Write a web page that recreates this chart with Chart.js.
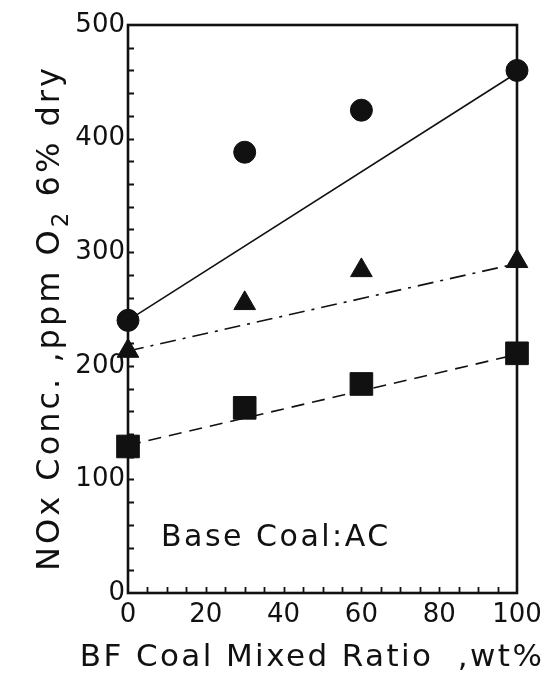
<!DOCTYPE html>
<html><head><meta charset="utf-8">
<script src="https://cdn.jsdelivr.net/npm/chart.js@4"></script>
<style>html,body{margin:0;padding:0;background:#fff}#wrap{width:555px;height:675px}</style>
</head><body><div id="wrap"><canvas id="c" width="555" height="675"></canvas></div>
<script>
// ---- data ----
const xValues = [0, 30, 60, 100];
const circleValues = [240, 388, 425, 460];
const triangleValues = [213, 255, 284, 292];
const squareValues = [129, 163, 184, 211];
const fitX = [0, 100];
const circleFit = [240, 458];
const triangleFit = [213, 290];
const squareFit = [130, 210];
const xMin = 0, xMax = 100, xStep = 20, xMinorStep = 5;
const yMin = 0, yMax = 500, yStep = 100, yMinorStep = 20;
const xTitle = 'BF Coal Mixed Ratio  ,wt%';
const yTitleParts = [['NOx Conc. ,ppm O', false], ['2', true], [' 6% dry', false]];
const noteText = 'Base Coal:AC';
const notePos = [38, 48];

const INK = '#111';
const pts = (xs, ys) => xs.map((x, i) => ({x, y: ys[i]}));

const deco = {
  id: 'deco',
  beforeDatasetsDraw(chart) {
    const {ctx, chartArea: a, scales: {x, y}} = chart;
    ctx.save();
    ctx.strokeStyle = INK;
    ctx.lineWidth = 1.8;
    ctx.beginPath();
    for (let v = yMin + yMinorStep; v < yMax; v += yMinorStep) {
      const py = Math.round(y.getPixelForValue(v)) + 0.5;
      ctx.moveTo(a.left, py); ctx.lineTo(a.left + 6, py);
    }
    for (let v = xMin + xMinorStep; v < xMax; v += xMinorStep) {
      const px = Math.round(x.getPixelForValue(v)) + 0.5;
      ctx.moveTo(px, a.bottom); ctx.lineTo(px, a.bottom - 6);
    }
    ctx.stroke();
    ctx.lineWidth = 2.6;
    ctx.strokeRect(a.left, a.top, a.right - a.left, a.bottom - a.top);
    ctx.restore();
  },
  afterDraw(chart) {
    const {ctx, scales: {x, y}} = chart;
    ctx.save();
    ctx.fillStyle = INK;
    // note
    ctx.font = '30px "DejaVu Sans"';
    ctx.letterSpacing = '2.5px';
    ctx.textAlign = 'center';
    ctx.textBaseline = 'middle';
    ctx.fillText(noteText, x.getPixelForValue(notePos[0]), y.getPixelForValue(notePos[1]));
    // x title
    ctx.font = '31px "DejaVu Sans"';
    ctx.letterSpacing = '2.4px';
    ctx.textBaseline = 'alphabetic';
    ctx.fillText(xTitle, 312, 666);
    // y title
    ctx.translate(59, 318);
    ctx.rotate(-Math.PI / 2);
    ctx.textAlign = 'left';
    ctx.letterSpacing = '3px';
    let total = 0;
    const widths = yTitleParts.map(([t, sub]) => {
      ctx.font = (sub ? '23px' : '32px') + ' "DejaVu Sans"';
      const w = ctx.measureText(t).width; total += w; return w;
    });
    let cx = -total / 2;
    yTitleParts.forEach(([t, sub], i) => {
      ctx.font = (sub ? '23px' : '32px') + ' "DejaVu Sans"';
      ctx.fillText(t, cx, sub ? 9 : 0);
      cx += widths[i];
    });
    ctx.restore();
  }
};

new Chart(document.getElementById('c'), {
  type: 'scatter',
  data: {
    datasets: [
      {data: pts(fitX, circleFit), showLine: true, borderColor: INK, borderWidth: 1.6, pointRadius: 0, fill: false, clip: false},
      {data: pts(fitX, triangleFit), showLine: true, borderColor: INK, borderWidth: 1.6, borderDash: [16, 7, 3, 7], pointRadius: 0, fill: false, clip: false},
      {data: pts(fitX, squareFit), showLine: true, borderColor: INK, borderWidth: 1.6, borderDash: [13, 8], pointRadius: 0, fill: false, clip: false},
      {data: pts(xValues, circleValues), pointStyle: 'circle', pointRadius: 11, backgroundColor: INK, borderColor: INK, clip: false},
      {data: pts(xValues, triangleValues), pointStyle: 'triangle', pointRadius: 12.5, backgroundColor: INK, borderColor: INK, clip: false},
      {data: pts(xValues, squareValues), pointStyle: 'rect', pointRadius: 16, backgroundColor: INK, borderColor: INK, clip: false}
    ]
  },
  options: {
    responsive: false,
    animation: false,
    layout: {padding: {left: 0, right: 38, top: 25, bottom: 0}},
    plugins: {legend: {display: false}, tooltip: {enabled: false}},
    scales: {
      x: {
        type: 'linear', min: xMin, max: xMax,
        afterFit: s => { s.height = 82; },
        grid: {display: false, drawTicks: false},
        border: {display: false},
        ticks: {stepSize: xStep, padding: 7, color: INK, font: {family: 'DejaVu Sans', size: 26}}
      },
      y: {
        type: 'linear', min: yMin, max: yMax,
        afterFit: s => { s.width = 128; },
        grid: {display: false, drawTicks: false},
        border: {display: false},
        ticks: {stepSize: yStep, padding: 3, color: INK, font: {family: 'DejaVu Sans', size: 26}}
      }
    }
  },
  plugins: [deco]
});
</script></body></html>
